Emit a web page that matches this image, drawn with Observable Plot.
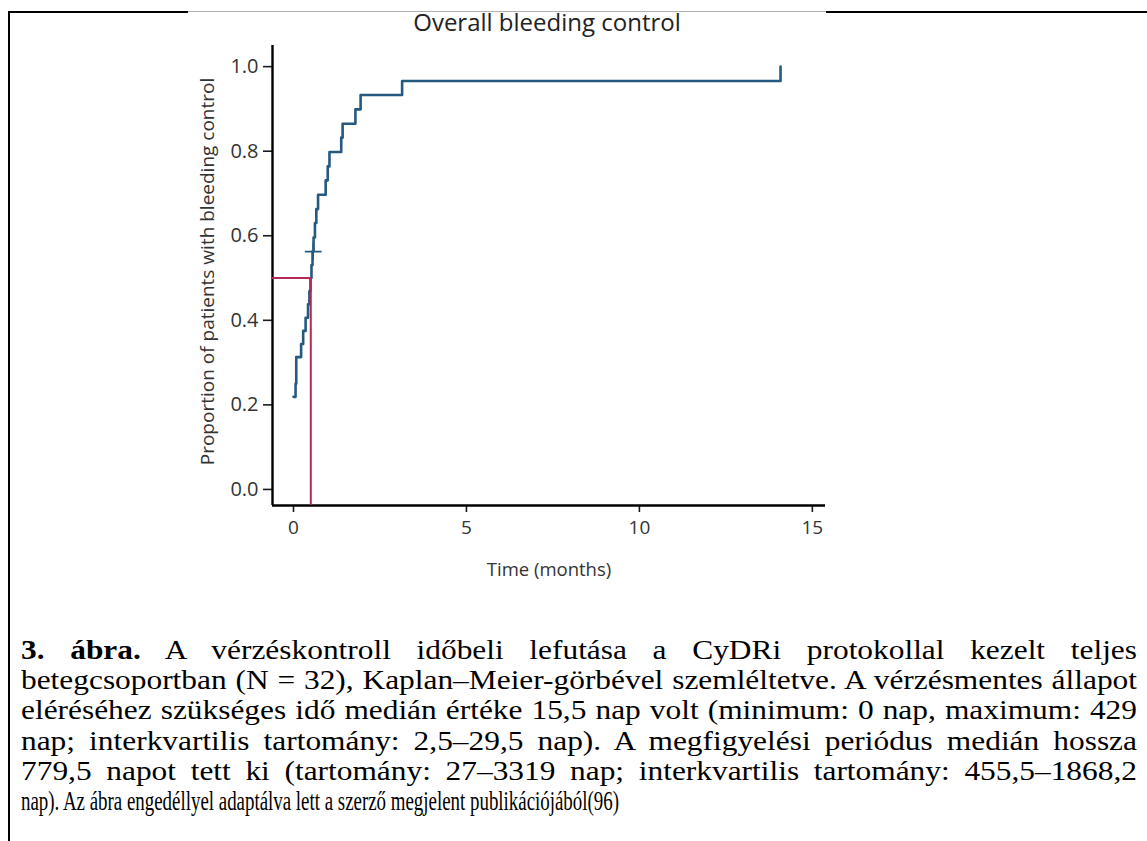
<!DOCTYPE html>
<html>
<head>
<meta charset="utf-8">
<script src="https://cdn.jsdelivr.net/npm/d3@7"></script>
<script src="https://cdn.jsdelivr.net/npm/@observablehq/plot@0.6"></script>
<style>
html, body { margin: 0; padding: 0; background: #fff; }
#page { position: relative; width: 1147px; height: 841px; overflow: hidden; background: #fff; }
.bar { position: absolute; }
#title { position: absolute; left: 297px; width: 500px; top: 8px; text-align: center;
  font-family: "Open Sans", sans-serif; font-size: 24px; line-height: 28px; color: #222; }
#chart { position: absolute; left: 180px; top: 0px; }
.cap { position: absolute; left: 21px; font-family: "Liberation Serif", "Times New Roman", serif;
  font-size: 27px; line-height: 30px; height: 30px; color: #000; white-space: nowrap; }
.cap .inner { display: inline-block; transform-origin: left top; }
.cap .just { white-space: normal; text-align: justify; text-align-last: justify; }
</style>
</head>
<body>
<div id="page">
  <div class="bar" style="left:8px;top:11px;width:2px;height:830px;background:#000"></div>
  <div class="bar" style="left:8px;top:11px;width:180px;height:2px;background:#000"></div>
  <div class="bar" style="left:188px;top:11px;width:638px;height:1px;background:#b0b0b0"></div>
  <div class="bar" style="left:826px;top:11px;width:321px;height:2px;background:#000"></div>
  <div id="chart"></div>
  <div id="title">Overall bleeding control</div>
  <div id="caption"></div>
</div>
<script>
// ---- data (time in months, cumulative proportion) ----
const timeMonths = [0, 0.06, 0.08, 0.22, 0.28, 0.35, 0.42, 0.46, 0.49, 0.52, 0.55, 0.58, 0.62, 0.66, 0.71, 0.93, 0.99, 1.04, 1.38, 1.42, 1.79, 1.94, 3.14, 14.08];
const proportion = [0.219, 0.25, 0.313, 0.344, 0.375, 0.406, 0.438, 0.469, 0.5, 0.531, 0.563, 0.596, 0.63, 0.663, 0.697, 0.731, 0.764, 0.798, 0.832, 0.865, 0.899, 0.933, 0.966, 1.0];
const censorTime = [0.57];
const censorProp = [0.5625];
const medianTime = [0.5];
const medianProp = [0.5];
const xTicks = [0, 5, 10, 15];
const yTicks = [0, 0.2, 0.4, 0.6, 0.8, 1.0];
const xLabel = "Time (months)";
const yLabel = "Proportion of patients with bleeding control";
const captionLines = [
  "<b>3. ábra.</b> A vérzéskontroll időbeli lefutása a CyDRi protokollal kezelt teljes",
  "betegcsoportban (N = 32), Kaplan–Meier-görbével szemléltetve. A vérzésmentes állapot",
  "eléréséhez szükséges idő medián értéke 15,5 nap volt (minimum: 0 nap, maximum: 429",
  "nap; interkvartilis tartomány: 2,5–29,5 nap). A megfigyelési periódus medián hossza",
  "779,5 napot tett ki (tartomány: 27–3319 nap; interkvartilis tartomány: 455,5–1868,2",
  "nap). Az ábra engedéllyel adaptálva lett a szerző megjelent publikációjából(96)"
];

const km = timeMonths.map((t, i) => ({t, p: proportion[i]}));
const censor = censorTime.map((t, i) => ({t, p: censorProp[i]}));
const median = medianTime.map((t, i) => ({t, p: medianProp[i]}));

const xDomain = [-0.607, 15.38];
const yDomain = [-0.038, 1.05];
const blue = "#245a80";
const red = "#b52a55";

const chart = Plot.plot({
  width: 660, height: 590,
  marginLeft: 92, marginRight: 15, marginTop: 45, marginBottom: 85,
  style: {background: "transparent", fontFamily: "'Open Sans', sans-serif", fontSize: "19px", color: "#1a1a1a", overflow: "visible"},
  x: {domain: xDomain},
  y: {domain: yDomain},
  marks: [
    Plot.axisX({ticks: xTicks, tickSize: 7, tickPadding: 8, strokeWidth: 1.6, label: null, fontSize: 19, fill: "#333"}),
    Plot.axisY({ticks: yTicks, tickSize: 9, tickPadding: 5, strokeWidth: 1.6, tickFormat: d3.format(".1f"), label: null, fontSize: 20, fill: "#333"}),
    Plot.ruleX([xDomain[0]], {stroke: "#000", strokeWidth: 2.4}),
    Plot.ruleY([yDomain[0]], {stroke: "#000", strokeWidth: 2.4}),
    Plot.line(km, {x: "t", y: "p", curve: "step-after", stroke: blue, strokeWidth: 2.6}),
    Plot.dot(censor, {x: "t", y: "p", symbol: "plus", r: 5.5, stroke: blue, strokeWidth: 1.6}),
    Plot.ruleY(median, {y: "p", x1: xDomain[0], x2: "t", stroke: red, strokeWidth: 2}),
    Plot.ruleX(median, {x: "t", y1: yDomain[0], y2: "p", stroke: red, strokeWidth: 2}),
    Plot.text([xLabel], {frameAnchor: "bottom", lineAnchor: "middle", textAnchor: "middle", dy: 65, fontSize: 18.5, fill: "#333"}),
    Plot.text([yLabel], {frameAnchor: "left", lineAnchor: "middle", textAnchor: "middle", dx: -65, dy: -4, rotate: -90, fontSize: 19, fill: "#333"})
  ]
});
document.getElementById("chart").appendChild(chart);

// ---- caption: justified serif lines, last line condensed as in the source ----
const cap = document.getElementById("caption");
const lineTops = 635, lineStep = 30.2;
const els = captionLines.map((html, i) => {
  const d = document.createElement("div");
  d.className = "cap";
  d.style.top = (lineTops + i * lineStep) + "px";
  const inner = document.createElement("span");
  inner.className = "inner";
  inner.innerHTML = html;
  d.appendChild(inner);
  cap.appendChild(d);
  return inner;
});
const natural = els.map(e => e.getBoundingClientRect().width);
const fullWidth = 1116;
const s = 1108 / Math.max(...natural.slice(1, 5));
els.forEach((e, i) => {
  if (i < captionLines.length - 1) {
    e.classList.add("just");
    e.style.width = (fullWidth / s) + "px";
    e.style.transform = `scaleX(${s})`;
  } else {
    e.style.transform = `scaleX(${598 / natural[i]})`;
  }
});
</script>
</body>
</html>
